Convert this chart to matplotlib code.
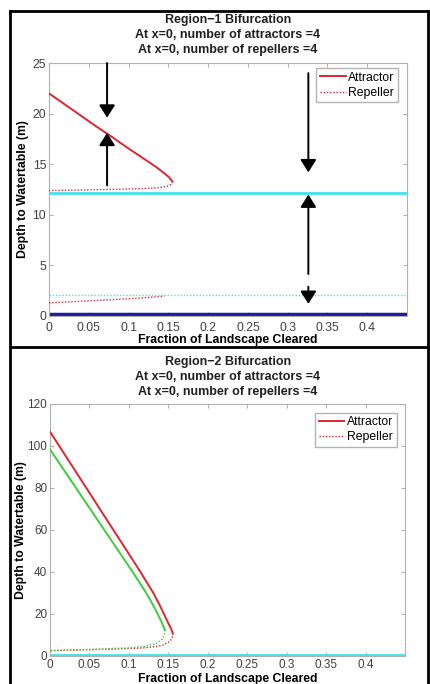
import matplotlib
matplotlib.use("Agg")
import matplotlib.pyplot as plt
from matplotlib.lines import Line2D

plt.rcParams['font.family'] = ['Liberation Sans', 'DejaVu Sans']

# ---------------- data ----------------
x_range = [0.0, 0.45]

# Region 1
r1_attr_x = [0.0, 0.02, 0.04, 0.06, 0.08, 0.10, 0.12, 0.135, 0.145, 0.151, 0.155]
r1_attr_y = [22.0, 20.9, 19.8, 18.7, 17.65, 16.55, 15.5, 14.7, 14.1, 13.7, 13.3]
r1_rep_up_x = [0.155, 0.153, 0.148, 0.14, 0.12, 0.10, 0.07, 0.04, 0.0]
r1_rep_up_y = [13.3, 13.0, 12.8, 12.7, 12.6, 12.55, 12.5, 12.45, 12.4]
r1_rep_low_x = [0.0, 0.05, 0.10, 0.145]
r1_rep_low_y = [1.3, 1.5, 1.7, 1.95]
r1_cyan_solid = 12.2
r1_cyan_dotted = 2.1
r1_blue = 0.15
# arrows: (x, tail_y, tip_y)
r1_arrows = [(0.073, 25.0, 19.6), (0.073, 12.9, 18.1),
             (0.326, 24.0, 14.2), (0.326, 4.15, 12.0), (0.326, 2.9, 1.2)]

# Region 2
r2_red_attr_x = [0.0, 0.0289, 0.0632, 0.0976, 0.1147, 0.131, 0.138, 0.1445, 0.1495, 0.1535, 0.155, 0.1555]
r2_red_attr_y = [106.8, 90.0, 70.0, 50.0, 40.0, 30.0, 25.0, 20.0, 16.0, 13.0, 11.5, 10.8]
r2_grn_attr_x = [0.0, 0.033, 0.0689, 0.1048, 0.122, 0.131, 0.1365, 0.141, 0.1438, 0.1456]
r2_grn_attr_y = [98.4, 80.0, 60.0, 40.0, 30.0, 24.0, 20.0, 16.5, 14.0, 12.4]
r2_red_rep_x = [0.1555, 0.155, 0.152, 0.1435, 0.13, 0.113, 0.08, 0.049, 0.02, 0.0]
r2_red_rep_y = [10.8, 8.8, 7.0, 5.2, 4.3, 3.7, 3.3, 3.0, 2.7, 2.5]
r2_grn_rep_x = [0.1456, 0.145, 0.142, 0.135, 0.12, 0.10, 0.07, 0.04, 0.0]
r2_grn_rep_y = [12.4, 10.0, 8.0, 6.0, 4.6, 3.9, 3.4, 3.0, 2.6]
r2_cyan_solid = 0.4

x_ticks = [0, 0.05, 0.1, 0.15, 0.2, 0.25, 0.3, 0.35, 0.4]
x_ticklabels = ['0', '0.05', '0.1', '0.15', '0.2', '0.25', '0.3', '0.35', '0.4']
r1_yticks = [0, 5, 10, 15, 20, 25]
r2_yticks = [0, 20, 40, 60, 80, 100, 120]

titles = [["Region\u22121 Bifurcation", "At x=0, number of attractors =4", "At x=0, number of repellers =4"],
          ["Region\u22122 Bifurcation", "At x=0, number of attractors =4", "At x=0, number of repellers =4"]]

RED = '#e02530'
GREEN = '#3ccc3c'
CYAN = '#40e4e8'
BLUE = '#1c1c9c'
DOT = (0, (1, 1.3))

W, H = 430, 684
fig = plt.figure(figsize=(W / 100, H / 100), dpi=100)

def fx(px):
    return px / W

def fy(py):
    return 1 - py / H

def make_axes(l, r, t, b, xpad, tsize):
    ax = fig.add_axes([fx(l), fy(b), fx(r) - fx(l), fy(t) - fy(b)])
    for s in ax.spines.values():
        s.set_color('#b0b0b0')
        s.set_linewidth(0.8)
    ax.tick_params(direction='in', length=3, width=0.6, color='#a0a0a0',
                   labelcolor='#404040', labelsize=tsize, top=True, right=True)
    ax.tick_params(axis='x', pad=xpad)
    ax.tick_params(axis='y', pad=2)
    ax.set_xlim(*x_range)
    ax.set_xticks(x_ticks)
    ax.set_xticklabels(x_ticklabels)
    return ax

def style_labels(ax, xl_y, yl_x):
    ax.set_xlabel('Fraction of Landscape Cleared', fontsize=8.8, fontweight='bold')
    ax.set_ylabel('Depth to Watertable (m)', fontsize=8.8, fontweight='bold')
    ax.xaxis.set_label_coords(0.5, xl_y)
    ax.yaxis.set_label_coords(yl_x, 0.5)

leg_kw = dict(fontsize=8.8, frameon=True, fancybox=False, edgecolor='#a0a0a0',
              borderaxespad=0, handlelength=2.1, handletextpad=0.2, borderpad=0.3,
              labelspacing=0.25, loc='upper right')

# ---------- Panel 1 ----------
ax1 = make_axes(49, 407, 63, 316, 4, 8.8)
ax1.set_ylim(0, 25)
ax1.set_yticks(r1_yticks)
ax1.plot(x_range, [r1_cyan_solid] * 2, color=CYAN, lw=2.0, zorder=2)
ax1.plot(x_range, [r1_cyan_dotted] * 2, color=CYAN, lw=1.0, ls=DOT, zorder=2)
ax1.plot(x_range, [r1_blue] * 2, color=BLUE, lw=2.5, zorder=2)
la, = ax1.plot(r1_attr_x, r1_attr_y, color=RED, lw=1.4, zorder=3)
lr, = ax1.plot(r1_rep_up_x, r1_rep_up_y, color=RED, lw=1.0, ls=DOT, zorder=3)
ax1.plot(r1_rep_low_x, r1_rep_low_y, color=RED, lw=1.0, ls=DOT, zorder=3)
for x, y0, y1 in r1_arrows:
    ax1.annotate('', xy=(x, y1), xytext=(x, y0),
                 arrowprops=dict(arrowstyle='-|>,head_length=0.38,head_width=0.24',
                                 mutation_scale=20, lw=1.4, color='black',
                                 shrinkA=0, shrinkB=0), annotation_clip=False, zorder=5)
ax1.legend([la, lr], ['Attractor', 'Repeller'], bbox_to_anchor=(0.975, 0.980), **leg_kw)
style_labels(ax1, -0.071, -0.055)

# ---------- Panel 2 ----------
ax2 = make_axes(50, 405, 404, 656, 2, 8.5)
ax2.set_ylim(0, 120)
ax2.set_yticks(r2_yticks)
ax2.plot(x_range, [r2_cyan_solid] * 2, color=CYAN, lw=2.0, zorder=2)
la2, = ax2.plot(r2_red_attr_x, r2_red_attr_y, color=RED, lw=1.4, zorder=3)
ax2.plot(r2_grn_attr_x, r2_grn_attr_y, color=GREEN, lw=1.4, zorder=3)
lr2, = ax2.plot(r2_red_rep_x, r2_red_rep_y, color=RED, lw=1.0, ls=DOT, zorder=3)
ax2.plot(r2_grn_rep_x, r2_grn_rep_y, color=GREEN, lw=1.0, ls=DOT, zorder=3)
ax2.legend([la2, lr2], ['Attractor', 'Repeller'], bbox_to_anchor=(0.977, 0.966), **leg_kw)
style_labels(ax2, -0.0655, -0.066)

# ---------- titles ----------
for lines, ys in zip(titles, [[23.3, 38.3, 53.3], [364.7, 379.7, 394.7]]):
    for txt, y in zip(lines, ys):
        fig.text(fx(228), fy(y), txt, ha='center', va='baseline', fontsize=9,
                 fontweight='bold', color='#202020')

# ---------- frame ----------
frame_kw = dict(color='black', lw=2.0, transform=fig.transFigure, solid_capstyle='projecting')
fig.add_artist(Line2D([fx(9.5), fx(9.5)], [fy(10.5), fy(684)], **frame_kw))
fig.add_artist(Line2D([fx(9.5), fx(428)], [fy(10.5), fy(10.5)], **frame_kw))
fig.add_artist(Line2D([fx(428), fx(428)], [fy(10.5), fy(684)], **frame_kw))
fig.add_artist(Line2D([fx(9.5), fx(430)], [fy(347), fy(347)], **frame_kw))

fig.savefig('out.png', dpi=100)
